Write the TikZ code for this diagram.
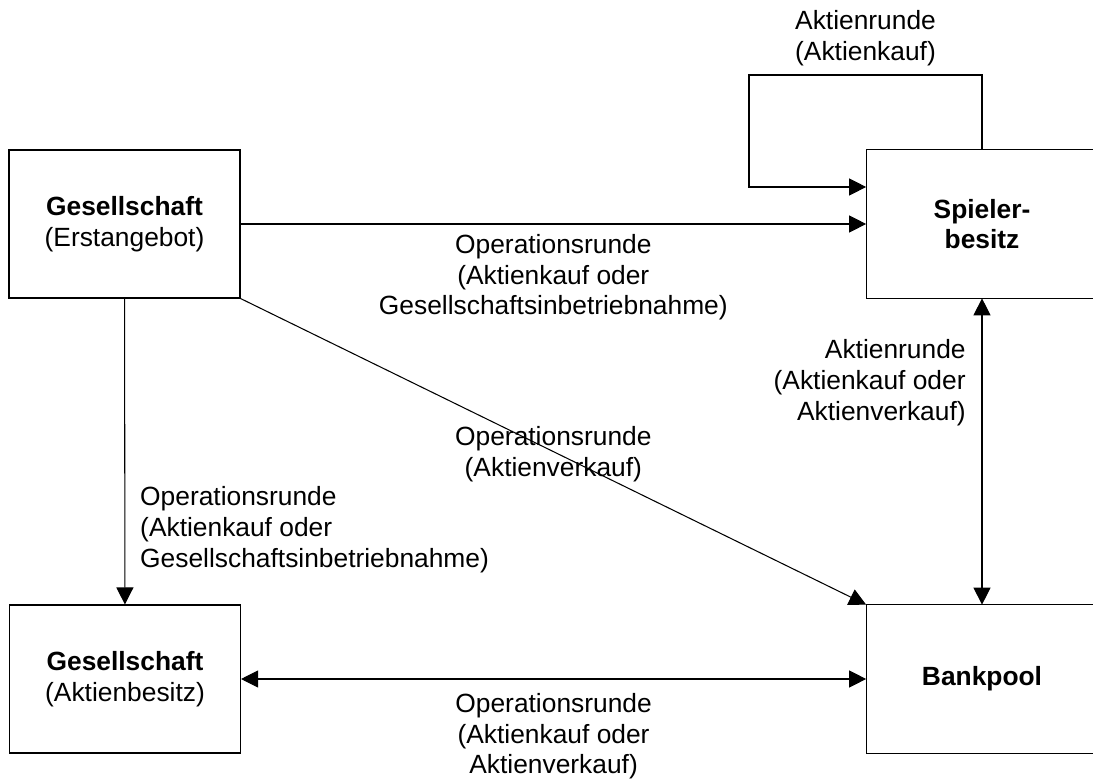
\documentclass[tikz,border=0pt]{standalone}
\usepackage{fontspec}
\setmainfont{Liberation Sans}
\usetikzlibrary{arrows.meta}

\begin{document}
\begin{tikzpicture}[
        box/.style={draw, line width=0.6pt, minimum width=4.62cm, minimum height=2.96cm, align=center},
        openbox/.style={minimum width=4.62cm, minimum height=2.96cm, align=center},
        conn/.style={line width=0.6pt},
        >={Triangle[length=0.34cm, width=0.34cm]},
        every node/.style={font=\fontsize{15}{17.5}\selectfont}
    ]
        \useasboundingbox (0,0) rectangle (21.86,15.56);
        
        \node[box] (erst) at (2.49,11.08) {\textbf{Gesellschaft}\\(Erstangebot)};
        \node[box] (besitz) at (2.5,1.98) {\textbf{Gesellschaft}\\(Aktienbesitz)};
        \node[openbox] (spieler) at (19.64,11.08) {\textbf{Spieler-}\\\textbf{besitz}};
        \node[openbox] (bank) at (19.64,1.98) {\textbf{Bankpool}};
        
        % right boxes run off the page
        \draw[conn] ([xshift=-0.1cm]spieler.north east) -- (spieler.north west) -- (spieler.south west) -- ([xshift=-0.1cm]spieler.south east);
        \draw[conn] ([xshift=-0.1cm]bank.north east) -- (bank.north west) -- (bank.south west) -- ([xshift=-0.1cm]bank.south east);
        
        \coordinate (looptop) at (14.98,14.06);
        \coordinate (loopin) at ([yshift=0.74cm]spieler.west);
        
        \draw[conn,->] (spieler.north) |- (looptop) node[pos=0.75, above=0.06cm, align=center] {Aktienrunde\\(Aktienkauf)} |- (loopin);
        \draw[conn,->] (erst) -- (spieler) node[midway, below=0.08cm, align=center] {Operationsrunde\\(Aktienkauf oder\\Gesellschaftsinbetriebnahme)};
        \draw[conn,<->] (spieler) -- (bank) node[pos=0.275, left=0.2cm, align=right] {Aktienrunde\\(Aktienkauf oder\\Aktienverkauf)};
        \draw[conn,->] (erst.south east) -- (bank.north west) node[midway, yshift=-0.05cm, align=center] {Operationsrunde\\(Aktienverkauf)};
        \draw[conn,->] (erst) -- (besitz) node[pos=0.755, right=0.18cm, align=left] {Operationsrunde\\(Aktienkauf oder\\Gesellschaftsinbetriebnahme)};
        \draw[conn,<->] (besitz) -- (bank) node[midway, below=0.16cm, align=center] {Operationsrunde\\(Aktienkauf oder\\Aktienverkauf)};
        
\end{tikzpicture}
\end{document}
